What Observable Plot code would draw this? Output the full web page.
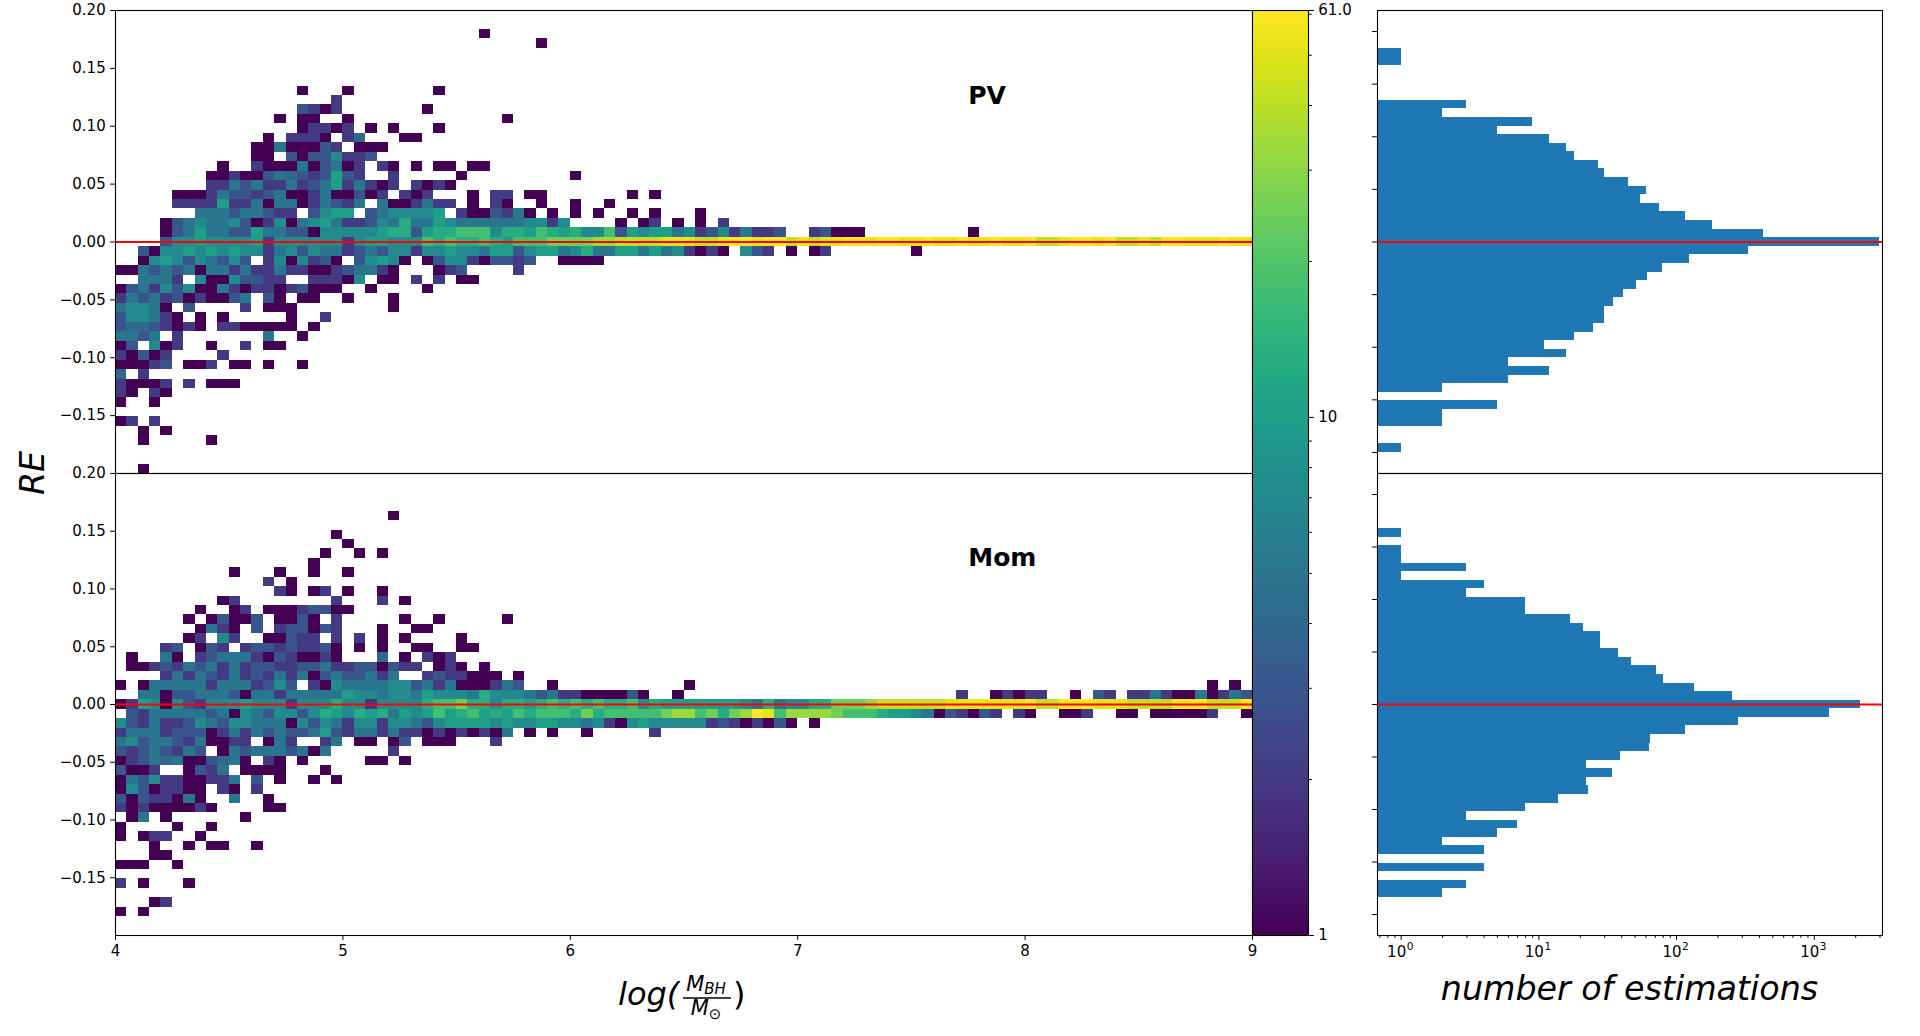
<!DOCTYPE html>
<html>
<head>
<meta charset="utf-8">
<script src="https://cdn.jsdelivr.net/npm/d3@7"></script>
<script src="https://cdn.jsdelivr.net/npm/@observablehq/plot@0.6"></script>
<style>
html, body { margin: 0; padding: 0; background: #fff; }
#chart { position: relative; width: 1920px; height: 1036px; overflow: hidden; background: #fff; font-family: "DejaVu Sans", sans-serif; }
#chart > svg { position: absolute; overflow: visible; }
</style>
</head>
<body>
<div id="chart"></div>
<script>
// ---------------- DATA ----------------
// 2D histogram bins: x from 4 in steps of 0.05 (100 columns); y: 49 rows over [-0.2, 0.2], centred on k*dy
const xStart = 4, xBinWidth = 0.05, yBinCount = 49, yLow = -0.2, yHigh = 0.2;
// count code used in the row strings ('.' = empty cell)
const countCode = {".":0,"1":1,"2":2,"3":3,"4":4,"5":5,"6":7,"7":10,"8":13,"9":18,"a":25,"b":33,"c":42,"d":52,"e":61};
const panelNames = ["PV", "Mom"];

// rows from k=+24 (top) to k=-24 (bottom); segments "startColumn:codes"
const pvRows = [
 "", "",
 "32:1",
 "37:1",
 "", "", "", "",
 "16:1; 20:1; 28:1",
 "19:2",
 "16:3212; 27:1",
 "14:1; 16:11; 20:1; 34:1",
 "16:12212; 22:1; 24:1; 28:1",
 "13:1.22 21.24; 25:11",
 "12:1151 1132 .111",
 "12:11.3 1336 223",
 "9:1; 12:2111 5135 12.2 1.1. 11.1 1",
 "8:1121 1354 3237 32; 24:2; 30:1; 40:1",
 "8:2253 5225 2357 2521; 24:2.2121",
 "5:1112 5332 3511 2511 31; 23:2.212; 31:1.22.11; 45:1.1",
 "5:2222 7225 1551 2532 5.51 125; 28:22.1 .21; 37:1; 40:1; 43:1",
 "7:5553 5532 2.36 77.3 5666 67.2 1132 51.1 .1.1; 45:1.1; 51:1",
 "4:1356 5563 1261 5675 2236 5855 7655 5555 6626 .... 1.12 .1.1 .2",
 "4:1357 5533 7553 3166 6667 8837 8899 9688 7987 8669 3767 7562 3625 223. .231 11; 75:1",
 "4:3667 6666 7266 6666 2677 6669 8988 9879 99aa aabb cccc dddc c deed eecd cdde edee dded dedd edde ccde edec cdce eddd edd",
 "2:3166 7676 7662 5636 5523 5366 2667 6657 7367 7568 5577 5756 2121 .632 .1.1 2; 70:1",
 "2:1676 3653 63.2 6162 31.3 6761 .136 6213 323. .111 1",
 "0:1153 5351 5525 2252 2112 3552 1... 123; 35:2",
 "2:5552 .611 6332 2..2 2216 .11. 2.2. 11",
 "0:1352 6361 1521 2212 3111 ..1. ...1",
 "0:2535 2312 1135 .31. 11.. 1... 1",
 "0:5665 1.3; 11:2.111; 24:1",
 "0:3665 21.1 .1; 15:1; 18:2",
 "0:3443 2121 .221 1111 .1",
 "0:5535 .2; 13:5; 16:1",
 "0:13.6 12; 8:1; 11:2.11",
 "0:2131 2; 9:2",
 "0:1112 3.11 2.11 .1; 16:1",
 "0:4.2",
 "0:2111 2.2. 111",
 "0:21.21",
 "0:1..1",
 "",
 "0:12.2",
 "2:1.1",
 "2:1; 8:1",
 "", "",
 "2:1"
];

const momRows = [
 "", "", "", "",
 "24:1",
 "",
 "19:1",
 "20:1",
 "18:1; 21:1; 23:1",
 "17:1",
 "10:1; 14:1; 17:1; 20:1",
 "13:2.1",
 "14:21.12.1; 23:1",
 "9:12; 19:2; 23:2.1",
 "7:1; 10:12.1 1123 311",
 "6:1.13 113. 1131 .2; 25:1; 28:1; 34:1",
 "7:1521 .3.2 3313 2; 23:1; 26:11",
 "6:12.6 2..1 1322 .2.2 .1.1; 30:1",
 "4:23.1 32.2 3323 2231 .1.1; 26:11; 30:11",
 "1:1; 4:51.2 3555 2132 1121; 23:4.1.212",
 "1:1123 2535 2523 3223 3522 3313 22.1 21.1",
 "4:2525 3252 3252 5135 3352 5..2 3221 11.1",
 "0:1.15 5555 2555 2363 .216 5555 6635 2511 1253; 38:1; 50:1; 96:1.1",
 "2:5513 3555 3155 2555 5576 6566 5766 6586 6653 5221 1113 1..1; 74:2..1 2122 ..1. 32.2 2521 1512 53",
 "0:1276 1632 6667 6662 6668 6626 6668 99a8 8688 7898 9898 8968 7777 7776 5856 688a aabc cccc cddd dddd ecce eedd dccc ceee ccce",
 "0:.325 5555 3516 5366 3687 6878 5767 9789 7879 8999 8a89 9999 abb9 a8ab ed9b bbba 9998 7765 1321 32.2 1..1 12.. 11.1 1111 2..1",
 "0:6325 2236 5366 5551 6365 2662 6653 6777 7676 6776 6562 1676 6666 2321 2131 .1",
 "0:2555 2333 1252 5353 3573 2552 5221 2121 215. 1.1. .1; 47:2",
 "0:5635 5325 1122 .152 ..25 .11. 13.1 11; 33:2",
 "0:3235 3253 .153 5553 515; 24:2",
 "0:1235 4511 3451 .21. 1; 22:11.1",
 "0:3112 ..13 25.1 111; 18:1",
 "0:1536 2211 225. 3.1; 17:1.1",
 "0:1631 2211 .21. 2",
 "0:3132 2151; 10:5; 13:1",
 "0:2121 1112 1; 13:11",
 "1:15.1; 11:1",
 "0:1; 5:1; 8:1",
 "0:1.12 2..1",
 "3:1; 6:1; 8:11; 12:1",
 "3:11",
 "0:111; 5:1",
 "",
 "0:2.1; 6:1",
 "",
 "3:12",
 "0:1.1",
 "", ""
];

// marginal histograms (number of estimations per y bin), k=+24 .. k=-24
const pvHist = [0,0,1,1,0,0,0,0, 3,2,9,5,12,16,18,27,30,45,60,55,75,116,182,426, 3000,
  331,124,79,62,51,41,35,30,30,25,18,11,16,6,12,6,2,0,5,2,2,0,0,1];
const momHist = [0,0,0,0,1,0,1,1, 3,1,4,3,8,8,17,21,28,28,38,47,71,81,134,254, 2150,
  1285,281,116,65,64,39,22,34,22,23,14,8,3,7,5,2,4,0,4,0,3,2,0,0];

// axis ticks
const mainXTicks = [4, 5, 6, 7, 8, 9];
const mainYTicks = [0.2, 0.15, 0.1, 0.05, 0, -0.05, -0.1, -0.15];
const colorDomain = [1, 61];
const cbMajorTicks = [1, 10, 61];
const cbMinorTicks = [2, 3, 4, 5, 6, 7, 8, 9, 20, 30, 40, 50, 60];
const histXDomain = [0.673, 3130];
const histXTicks = [1, 10, 100, 1000];
const histXTickBase = ["10", "10", "10", "10"];
const histXTickExponents = ["0", "1", "2", "3"];
const histMinorTicks = [0.7, 0.8, 0.9, 2, 3, 4, 5, 6, 7, 8, 9, 20, 30, 40, 50, 60, 70, 80, 90,
  200, 300, 400, 500, 600, 700, 800, 900, 2000, 3000];
const histYTicks = [-0.2, -0.15, -0.1, -0.05, 0, 0.05, 0.1, 0.15, 0.2];

// ---------------- DRAWING ----------------
const dy = (yHigh - yLow) / yBinCount;
const half = (yBinCount - 1) / 2;
const FONT = "DejaVu Sans";
const TICK_FS = 15;
const OY = 3; // small vertical offset of the whole figure so the top tick labels are not clipped

function decode(rows) {
  const cells = [];
  rows.forEach((row, i) => {
    const k = half - i;
    if (!row) return;
    for (const seg of row.split(";")) {
      const [start, codes] = seg.split(":");
      let c = +start;
      for (const ch of codes.replace(/\s+/g, "")) {
        const v = countCode[ch];
        if (v) cells.push({col: c, k, count: v});
        c++;
      }
    }
  });
  return cells;
}

const baseStyle = {fontFamily: FONT, fontSize: TICK_FS + "px", background: "transparent", color: "black", overflow: "visible"};
const chart = document.getElementById("chart");
function place(svg, left, top) {
  svg.style.position = "absolute";
  svg.style.left = left + "px";
  svg.style.top = (top + OY) + "px";
  svg.style.overflow = "visible";
  chart.appendChild(svg);
}
const axisText = {fontSize: TICK_FS, fontFamily: FONT, label: null};

function heatPanel(rows, name, height, mt, mb, withX) {
  const cells = decode(rows);
  const marks = [
    Plot.rect(cells, {
      x1: d => xStart + d.col * xBinWidth, x2: d => xStart + (d.col + 1) * xBinWidth,
      y1: d => (d.k - 0.5) * dy, y2: d => (d.k + 0.5) * dy,
      fill: "count", shapeRendering: "crispEdges"
    }),
    Plot.ruleY([0], {stroke: "red", strokeWidth: 2}),
    Plot.text([name], {x: () => 7.75, y: () => 0.1265, text: d => d, textAnchor: "start",
      fontSize: 25, fontWeight: "bold", fontFamily: FONT, fill: "black"}),
    Plot.frame({stroke: "black", strokeWidth: 1.1}),
    Plot.axisY({...axisText, ticks: mainYTicks, tickFormat: d3.format(".2f"), tickSize: 4.9, tickPadding: 4.9})
  ];
  if (withX) marks.push(Plot.axisX({...axisText, ticks: mainXTicks, tickFormat: d3.format("d"), tickSize: 4.9, tickPadding: 4.9}));
  return Plot.plot({
    width: 1262, height, marginLeft: 115, marginRight: 10, marginTop: mt, marginBottom: mb,
    x: withX ? {domain: [4, 9]} : {domain: [4, 9], axis: null},
    y: {domain: [yLow, yHigh]},
    color: {type: "log", domain: colorDomain, scheme: "viridis"},
    style: baseStyle,
    marks
  });
}

function histPanel(counts, height, mt, mb, withX) {
  const bars = counts.map((n, i) => ({k: half - i, n})).filter(d => d.n > 0);
  const marks = [
    Plot.rect(bars, {x1: () => histXDomain[0], x2: "n", y1: d => (d.k - 0.5) * dy, y2: d => (d.k + 0.5) * dy,
      fill: "#1f77b4", shapeRendering: "crispEdges"}),
    Plot.ruleY([0], {stroke: "red", strokeWidth: 2}),
    Plot.frame({stroke: "black", strokeWidth: 1.1}),
    Plot.axisY({...axisText, ticks: histYTicks, tickFormat: () => "", tickSize: 4.9})
  ];
  if (withX) {
    marks.push(Plot.axisX({...axisText, ticks: histXTicks, tickFormat: () => "", tickSize: 4.9}));
    marks.push(Plot.axisX({...axisText, ticks: histMinorTicks, tickFormat: () => "", tickSize: 2.8}));
    // "10" with a raised exponent, centred as a whole on the tick
    marks.push(Plot.text(histXTicks, {x: d => d, text: (d, i) => histXTickBase[i], frameAnchor: "bottom",
      textAnchor: "end", lineAnchor: "top", dx: 5, dy: 10.5, fontSize: TICK_FS, fontFamily: FONT, fill: "black"}));
    marks.push(Plot.text(histXTicks, {x: d => d, text: (d, i) => histXTickExponents[i], frameAnchor: "bottom",
      textAnchor: "start", lineAnchor: "top", dx: 5.5, dy: 7.5, fontSize: 10.5, fontFamily: FONT, fill: "black"}));
  }
  return Plot.plot({
    width: 525, height, marginLeft: 10, marginRight: 10, marginTop: mt, marginBottom: mb,
    x: withX ? {type: "log", domain: histXDomain} : {type: "log", domain: histXDomain, axis: null},
    y: {domain: [-0.22, 0.22]},
    style: baseStyle,
    marks
  });
}

// main panels
place(heatPanel(pvRows, panelNames[0], 470, 7, 0, false), 0, 0);
place(heatPanel(momRows, panelNames[1], 563, 0, 101, true), 0, 470);

// colour bar
const rampSteps = d3.range(400).map(i => ({lo: Math.pow(colorDomain[1], i / 400), hi: Math.pow(colorDomain[1], (i + 1) / 400)}));
place(Plot.plot({
  width: 136, height: 952, marginLeft: 0, marginRight: 80, marginTop: 7, marginBottom: 20,
  x: {domain: [0, 1], axis: null},
  y: {type: "log", domain: colorDomain},
  color: {type: "log", domain: colorDomain, scheme: "viridis"},
  style: baseStyle,
  marks: [
    Plot.rect(rampSteps, {x1: () => 0, x2: () => 1, y1: "lo", y2: "hi", fill: d => Math.sqrt(d.lo * d.hi), shapeRendering: "crispEdges"}),
    Plot.frame({stroke: "black", strokeWidth: 1.1}),
    Plot.axisY({...axisText, anchor: "right", ticks: cbMajorTicks, tickFormat: d => d === 61 ? "61.0" : String(d), tickSize: 4.9, tickPadding: 4.9}),
    Plot.axisY({...axisText, anchor: "right", ticks: cbMinorTicks, tickFormat: () => "", tickSize: 2.8})
  ]
}), 1252, 0);

// histograms
place(histPanel(pvHist, 470, 7, 0, false), 1367, 0);
place(histPanel(momHist, 563, 0, 101, true), 1367, 470);

// axis titles
const ov = d3.create("svg").attr("width", 1920).attr("height", 1030)
  .style("left", "0px").style("pointer-events", "none")
  .attr("font-family", FONT).attr("fill", "black");
ov.append("text").attr("transform", "translate(44,470) rotate(-90)").attr("text-anchor", "middle")
  .attr("font-size", 33.3).attr("font-style", "italic").text("RE");
ov.append("text").attr("x", 1629.5).attr("y", 997).attr("text-anchor", "middle")
  .attr("font-size", 33.3).attr("font-style", "italic").text("number of estimations");
ov.append("text").attr("x", 618).attr("y", 1002).attr("font-size", 32).attr("font-style", "italic").text("log(");
const num = ov.append("text").attr("x", 706).attr("y", 988).attr("text-anchor", "middle").attr("font-size", 21).attr("font-style", "italic");
num.append("tspan").text("M");
num.append("tspan").attr("font-size", 15).attr("dy", 3).text("BH");
ov.append("line").attr("x1", 683).attr("x2", 731).attr("y1", 995).attr("y2", 995).attr("stroke", "black").attr("stroke-width", 1.3);
const den = ov.append("text").attr("x", 706).attr("y", 1012).attr("text-anchor", "middle").attr("font-size", 21).attr("font-style", "italic");
den.append("tspan").text("M");
den.append("tspan").attr("font-size", 15).attr("dy", 4).attr("font-style", "normal").text("\u2299");
ov.append("text").attr("x", 733).attr("y", 1002).attr("font-size", 32).text(")");
place(ov.node(), 0, 0);
</script>
</body>
</html>
